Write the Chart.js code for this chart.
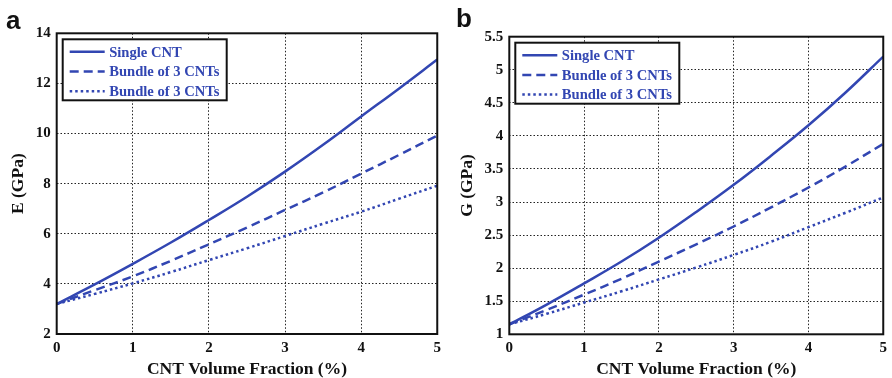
<!DOCTYPE html>
<html>
<head>
<meta charset="utf-8">
<script src="https://cdn.jsdelivr.net/npm/chart.js@4.4.1/dist/chart.umd.min.js"></script>
<style>
  html, body { margin: 0; padding: 0; background: #fff; }
  #wrap { position: relative; width: 892px; height: 378px; overflow: hidden; }
  .panel { position: absolute; top: 0; width: 446px; height: 378px; }
  .lbl { position: absolute; font-family: "Liberation Sans", Arial, sans-serif; font-weight: bold; font-size: 26px; line-height: 1; color: #111; }
</style>
</head>
<body>
<div id="wrap">
  <div class="panel" style="left:0"><canvas id="ca" width="446" height="378"></canvas></div>
  <div class="panel" style="left:446px"><canvas id="cb" width="446" height="378"></canvas></div>
  <div class="lbl" style="left:6px; top:7px;">a</div>
  <div class="lbl" style="left:456px; top:5px;">b</div>
</div>
<script>
// ---- data ----
const volumeFraction = [0, 0.5, 1, 1.5, 2, 2.5, 3, 3.5, 4, 4.5, 5];
const seriesLabels = ["Single CNT", "Bundle of 3 CNTs", "Bundle of 3 CNTs"];

const E_single  = [3.2, 3.98, 4.8, 5.65, 6.55, 7.48, 8.48, 9.55, 10.68, 11.8, 12.95];
const E_bundle3 = [3.2, 3.75, 4.3, 4.92, 5.58, 6.25, 6.95, 7.65, 8.4, 9.15, 9.92];
const E_bundleB = [3.2, 3.6, 4.02, 4.47, 4.95, 5.42, 5.91, 6.4, 6.88, 7.4, 7.92];

const G_single  = [1.15, 1.45, 1.77, 2.1, 2.46, 2.85, 3.26, 3.7, 4.16, 4.66, 5.2];
const G_bundle3 = [1.15, 1.37, 1.6, 1.84, 2.1, 2.36, 2.63, 2.92, 3.22, 3.54, 3.88];
const G_bundleB = [1.15, 1.31, 1.48, 1.65, 1.83, 2.01, 2.2, 2.4, 2.62, 2.84, 3.07];

const xTickLabels = ["0", "1", "2", "3", "4", "5"];
const eTickLabels = ["2", "4", "6", "8", "10", "12", "14"];
const gTickLabels = ["1", "1.5", "2", "2.5", "3", "3.5", "4", "4.5", "5", "5.5"];

// ---- styling ----
const BLUE = "rgb(50,70,178)";
const SERIF = "'Liberation Serif', 'Times New Roman', serif";
const DASHES = [[], [9, 5], [2.5, 3]];

function pts(ys) { return volumeFraction.map((x, i) => ({ x: x, y: ys[i] })); }

const frameLegend = {
  id: "frameLegend",
  afterDatasetsDraw(chart) {
    const { ctx, chartArea: { left, top, right, bottom } } = chart;
    ctx.save();
    const lx = left + 6, ly = top + 6, lw = 164, lh = 61;
    ctx.fillStyle = "#fff";
    ctx.fillRect(lx, ly, lw, lh);
    ctx.strokeStyle = "#111";
    ctx.lineWidth = 2;
    ctx.strokeRect(lx, ly, lw, lh);
    ctx.font = "bold 14.6px " + SERIF;
    ctx.textBaseline = "middle";
    chart.data.datasets.forEach((ds, i) => {
      const cy = ly + 12.5 + i * 19.7;
      ctx.strokeStyle = BLUE;
      ctx.lineWidth = 2.5;
      ctx.setLineDash(ds.borderDash || []);
      ctx.beginPath();
      ctx.moveTo(lx + 7, cy);
      ctx.lineTo(lx + 42, cy);
      ctx.stroke();
      ctx.setLineDash([]);
      ctx.fillStyle = BLUE;
      ctx.fillText(ds.label, lx + 46.5, cy + 1);
    });
    ctx.strokeStyle = "#111";
    ctx.lineWidth = 2;
    ctx.strokeRect(left, top, right - left, bottom - top);
    ctx.restore();
  }
};

function makeChart(id, series, yMin, yMax, yStep, yLabels, yTitle, layout) {
  const datasets = series.map((ys, i) => ({
    label: seriesLabels[i],
    data: pts(ys),
    borderColor: BLUE,
    borderWidth: 2.5,
    borderDash: DASHES[i],
    pointRadius: 0,
    tension: 0.4,
    fill: false
  }));
  return new Chart(document.getElementById(id), {
    type: "line",
    data: { datasets },
    plugins: [frameLegend],
    options: {
      responsive: false,
      animation: false,
      devicePixelRatio: 1,
      layout: { padding: { left: 0, right: layout.right, top: layout.top, bottom: 0 } },
      plugins: { legend: { display: false }, tooltip: { enabled: false } },
      scales: {
        x: {
          type: "linear", min: 0, max: 5,
          afterFit(s) { s.height = layout.xh; },
          ticks: {
            stepSize: 1, padding: 5, color: "#111",
            font: { family: SERIF, size: 15, weight: "bold" },
            maxRotation: 0,
            callback: (v) => xTickLabels[Math.round(v)]
          },
          grid: { color: "#222", lineWidth: 1, drawTicks: false },
          border: { display: false, dash: [1.5, 2] },
          title: { display: true, text: "CNT Volume Fraction (%)", color: "#111",
                   font: { family: SERIF, size: 17.5, weight: "bold", lineHeight: 1 }, padding: { top: 0, bottom: 0 } }
        },
        y: {
          type: "linear", min: yMin, max: yMax,
          afterFit(s) { s.width = layout.yw; },
          ticks: {
            stepSize: yStep, padding: 6, color: "#111",
            font: { family: SERIF, size: 15, weight: "bold" },
            callback: (v) => yLabels[Math.round((v - yMin) / yStep)]
          },
          grid: { color: "#222", lineWidth: 1, drawTicks: false },
          border: { display: false, dash: [1.5, 2] },
          title: { display: true, text: yTitle, color: "#111",
                   font: { family: SERIF, size: 17.5, weight: "bold", lineHeight: 1 }, padding: { top: layout.tp, bottom: 0 } }
        }
      }
    }
  });
}

makeChart("ca", [E_single, E_bundle3, E_bundleB], 2, 14, 2, eTickLabels, "E (GPa)",
          { right: 8.3, top: 33.3, yw: 56.7, xh: 44, tp: 9.5 });
makeChart("cb", [G_single, G_bundle3, G_bundleB], 1, 5.5, 0.5, gTickLabels, "G (GPa)",
          { right: 5.3, top: 36.7, yw: 63.3, xh: 43.7, tp: 12.5 });
</script>
</body>
</html>
